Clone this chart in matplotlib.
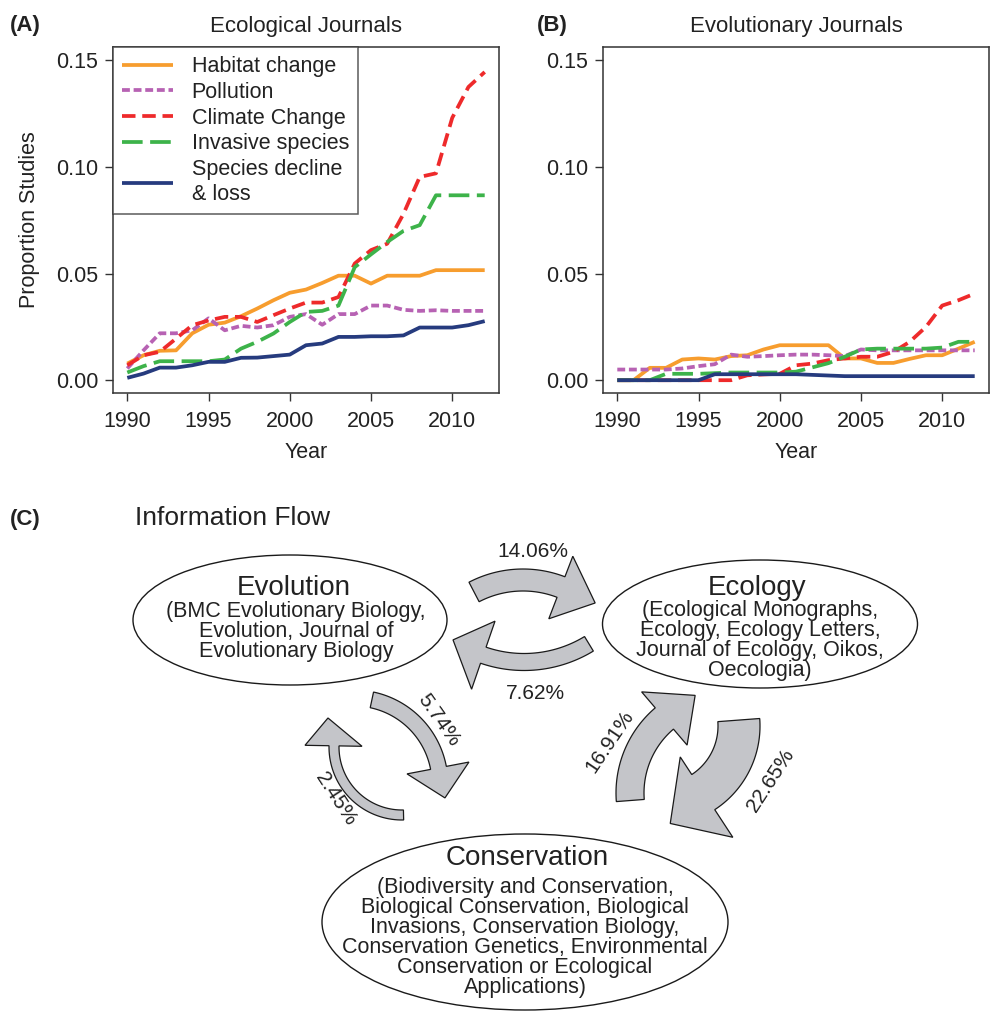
import numpy as np
import matplotlib
matplotlib.use("Agg")
from matplotlib import pyplot as plt
from matplotlib.patches import Ellipse, Polygon

plt.rcParams['font.family'] = ['Liberation Sans', 'DejaVu Sans']

W, H = 993, 1013

years = list(range(1990, 2013))

# panel A - ecological journals
eco_habitat = [0.0078, 0.0117, 0.0138, 0.014, 0.022, 0.026, 0.027, 0.030, 0.0336, 0.0375, 0.041, 0.0425,
               0.0456, 0.049, 0.049, 0.0453, 0.049, 0.049, 0.049, 0.0516, 0.0516, 0.0516, 0.0516]
eco_pollution = [0.0055, 0.014, 0.022, 0.022, 0.0234, 0.029, 0.0234, 0.0255, 0.0247, 0.0258, 0.0297, 0.031,
                 0.026, 0.031, 0.031, 0.035, 0.035, 0.033, 0.0325, 0.0328, 0.0325, 0.0325, 0.0325]
eco_climate = [0.007, 0.0117, 0.0133, 0.0195, 0.0258, 0.028, 0.0297, 0.0297, 0.0273, 0.0305, 0.0336, 0.0364,
               0.0364, 0.039, 0.0547, 0.061, 0.064, 0.078, 0.0953, 0.097, 0.123, 0.1375, 0.1445]
eco_invasive = [0.0036, 0.0066, 0.0089, 0.0089, 0.0089, 0.0089, 0.0097, 0.0148, 0.018, 0.0219, 0.0273, 0.032,
                0.0325, 0.035, 0.053, 0.059, 0.0648, 0.070, 0.0727, 0.0867, 0.0867, 0.0867, 0.0867]
eco_decline = [0.0011, 0.0031, 0.0059, 0.0059, 0.007, 0.0086, 0.0086, 0.0105, 0.0106, 0.0113, 0.012, 0.0164,
               0.0172, 0.0203, 0.0203, 0.0206, 0.0206, 0.021, 0.0247, 0.0247, 0.0247, 0.0258, 0.0277]

# panel B - evolutionary journals
evo_habitat = [0, 0, 0.0058, 0.0058, 0.0097, 0.0102, 0.0097, 0.0113, 0.0117, 0.0144, 0.0164, 0.0164,
               0.0164, 0.0164, 0.0102, 0.0102, 0.0081, 0.0081, 0.010, 0.0117, 0.0117, 0.0148, 0.018]
evo_pollution = [0.005, 0.005, 0.005, 0.005, 0.0055, 0.0066, 0.0075, 0.012, 0.011, 0.0113, 0.0117, 0.012,
                 0.012, 0.0117, 0.0113, 0.0144, 0.014, 0.014, 0.014, 0.014, 0.014, 0.014, 0.014]
evo_climate = [0, 0, 0, 0, 0, 0, 0, 0, 0.0023, 0.0027, 0.003, 0.007, 0.0078, 0.0094, 0.0102, 0.011, 0.011,
               0.0133, 0.018, 0.025, 0.035, 0.0375, 0.0406]
evo_invasive = [0, 0, 0, 0.003, 0.003, 0.003, 0.0033, 0.0036, 0.0036, 0.0036, 0.0036, 0.004, 0.006, 0.008,
                0.011, 0.0144, 0.0148, 0.0148, 0.0148, 0.0148, 0.0153, 0.018, 0.018]
evo_decline = [0, 0, 0, 0, 0, 0, 0.0028, 0.0028, 0.0028, 0.0028, 0.0028, 0.0028, 0.0025, 0.0022, 0.0019,
               0.0019, 0.0019, 0.0019, 0.0019, 0.0019, 0.0019, 0.0019, 0.0019]

labels = ["Habitat change", "Pollution", "Climate Change", "Invasive species", "Species decline\n& loss"]
colors = ["#F79D2E", "#B762B3", "#EE2A2B", "#3DB34A", "#263B7E"]
dashes = [None, (2.1, 1.0), (3.6, 1.8), (5.5, 2.0), None]

x_ticks = [1990, 1995, 2000, 2005, 2010]
y_ticks = [0.0, 0.05, 0.10, 0.15]
y_tick_labels = ["0.00", "0.05", "0.10", "0.15"]

# panel C - information flow
flow_labels = ["14.06%", "7.62%", "5.74%", "2.45%", "16.91%", "22.65%"]
nodes = ["Evolution", "Ecology", "Conservation"]
node_lines = [
    ["(BMC Evolutionary Biology,", "Evolution, Journal of", "Evolutionary Biology"],
    ["(Ecological Monographs,", "Ecology, Ecology Letters,", "Journal of Ecology, Oikos,", "Oecologia)"],
    ["(Biodiversity and Conservation,", "Biological Conservation, Biological",
     "Invasions, Conservation Biology,", "Conservation Genetics, Environmental",
     "Conservation or Ecological", "Applications)"],
]

TXT = "#222222"
FS = 15.5

fig = plt.figure(figsize=(W / 100, H / 100), dpi=100)


def px(x, y):
    return x / W, 1 - y / H


def line_panel(rect, series, title):
    x0, y0, x1, y1 = rect
    ax = fig.add_axes([x0 / W, 1 - y1 / H, (x1 - x0) / W, (y1 - y0) / H])
    for vals, lab, col, d in zip(series, labels, colors, dashes):
        ln, = ax.plot(years, vals, color=col, lw=2.7, label=lab, solid_capstyle='butt')
        if d is not None:
            ln.set_dashes(d)
    ax.set_xlim(1989.12, 2012.88)
    ax.set_ylim(-0.006, 0.156)
    ax.set_xticks(x_ticks)
    ax.set_yticks(y_ticks)
    ax.set_yticklabels(y_tick_labels)
    ax.tick_params(direction='out', length=5.5, width=1, colors='#333333', labelcolor=TXT,
                   labelsize=FS, pad=5)
    ax.tick_params(axis='x', pad=7.5)
    for s in ax.spines.values():
        s.set_color('#333333')
        s.set_linewidth(1.1)
    cx = (x0 + x1) / 2
    fig.text(*px(cx, 32), title, ha='center', va='baseline', fontsize=16, color=TXT)
    fig.text(*px(cx, 452), "Year", ha='center', va='center', fontsize=FS, color=TXT)
    return ax


axA = line_panel((113, 47.5, 499, 393),
                 [eco_habitat, eco_pollution, eco_climate, eco_invasive, eco_decline], "Ecological Journals")
axB = line_panel((603, 47.5, 989, 393),
                 [evo_habitat, evo_pollution, evo_climate, evo_invasive, evo_decline], "Evolutionary Journals")

leg = axA.legend(loc='upper left', bbox_to_anchor=(0, 1), borderaxespad=0, frameon=True, fancybox=False,
                 fontsize=FS, handlelength=2.4, handletextpad=0.85, labelspacing=0.22, borderpad=0.4)
leg.get_frame().set_edgecolor('#333333')
leg.get_frame().set_linewidth(1.1)
for t in leg.get_texts():
    t.set_color(TXT)
    t.set_linespacing(1.25)

fig.text(*px(30, 220), "Proportion Studies", rotation=90, ha='center', va='center', fontsize=FS, color=TXT)

fig.text(*px(10, 31), "(A)", fontsize=16, fontweight='bold', va='baseline', color=TXT)
fig.text(*px(537, 31), "(B)", fontsize=16, fontweight='bold', va='baseline', color=TXT)
fig.text(*px(10, 525), "(C)", fontsize=16, fontweight='bold', va='baseline', color=TXT)
fig.text(*px(135, 525), "Information Flow", fontsize=19, va='baseline', color=TXT)

# overlay in pixel coordinates for the flow diagram
axC = fig.add_axes([0, 0, 1, 1])
axC.set_xlim(0, W)
axC.set_ylim(H, 0)
axC.axis('off')
axC.patch.set_alpha(0)


def arc_arrow(cx, cy, r, w, t0, t1, tip_t, tip_r, r_in, r_out):
    ts = np.radians(np.linspace(t0, t1, 40))
    outer = [(cx + (r + w / 2) * np.cos(t), cy - (r + w / 2) * np.sin(t)) for t in ts]
    inner = [(cx + (r - w / 2) * np.cos(t), cy - (r - w / 2) * np.sin(t)) for t in ts[::-1]]
    a1 = np.radians(t1)
    at = np.radians(tip_t)
    head = [(cx + r_out * np.cos(a1), cy - r_out * np.sin(a1)),
            (cx + tip_r * np.cos(at), cy - tip_r * np.sin(at)),
            (cx + r_in * np.cos(a1), cy - r_in * np.sin(a1))]
    pts = outer + head + inner
    axC.add_patch(Polygon(pts, closed=True, fc='#C4C5C9', ec='#1a1a1a', lw=0.9, joinstyle='miter'))


arc_arrow(523, 686, 106, 22, 117.5, 69, 49, 110, 72, 139)
arc_arrow(524, 537, 125, 17, -58.7, -109, -124.6, 125, 89, 161)
arc_arrow(354, 784, 86, 16, 78, 10.8, -8.7, 92, 54, 117)
arc_arrow(402, 747, 68, 10, -88.7, -181, -201.4, 79.5, 40, 97)
arc_arrow(728, 793, 98, 28, 184.4, 130.5, 108.6, 103, 63, 133)
arc_arrow(660, 726, 79, 42, 4.3, -56.8, -84, 98, 37, 133)

label_pos = [(533, 551, 0), (535, 693, 0), (439, 720, -55), (336, 799, -57), (610, 742, 56), (771, 780, 57)]
for lab, (x, y, rot) in zip(flow_labels, label_pos):
    axC.text(x, y, lab, ha='center', va='center', rotation=rot, rotation_mode='anchor',
             fontsize=15, color=TXT)

ellipses = [(290, 620, 314, 130), (760, 624, 315, 128), (525, 922, 406, 176)]
title_pos = [(294, 595), (757, 595), (527, 865)]
sub_start = [(296, 617), (760, 616), (525, 893)]
for name, lines, (ex, ey, ew, eh), (tx, ty), (sx, sy) in zip(nodes, node_lines, ellipses, title_pos, sub_start):
    axC.add_patch(Ellipse((ex, ey), ew, eh, fc='none', ec='#1a1a1a', lw=1.0))
    axC.text(tx, ty, name, ha='center', va='baseline', fontsize=20, color=TXT)
    for i, ln in enumerate(lines):
        axC.text(sx, sy + i * 20, ln, ha='center', va='baseline', fontsize=15.5, color=TXT)

fig.savefig("out.png", dpi=100)
